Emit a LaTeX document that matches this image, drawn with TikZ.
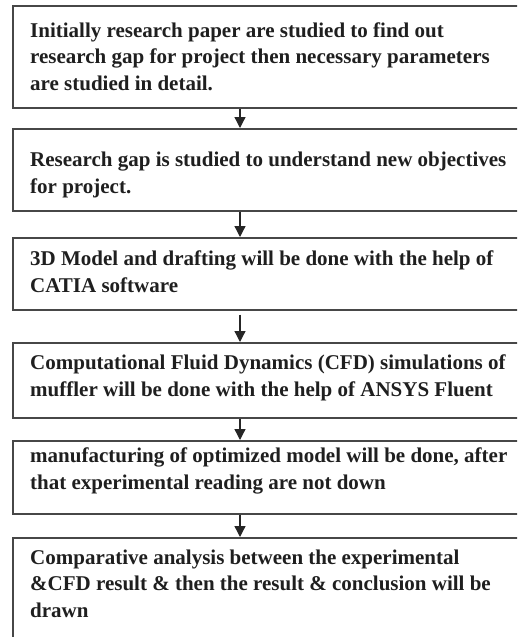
\documentclass[tikz,border=0pt]{standalone}
\usepackage{fontspec}
\setmainfont{Liberation Serif}
\usetikzlibrary{arrows.meta}
\begin{document}
\begin{tikzpicture}[x=1pt,y=1pt,
  frame/.style={draw=black!72, line width=1.6pt, anchor=north west, minimum width=530pt, inner sep=0pt},
  txt/.style={anchor=base west, inner sep=0pt, align=left, text=black!88, font=\fontsize{21}{26.5}\selectfont\bfseries},
  conn/.style={draw=black!85, line width=1.3pt, -{Triangle[width=11pt,length=11pt]}}]
\useasboundingbox (0,0) rectangle (517,-637);
\clip (0,0) rectangle (517,-637);
\node[frame, minimum height=102pt] (b1) at (12,-5) {};
\node[frame, minimum height=82pt]  (b2) at (12,-128) {};
\node[frame, minimum height=72pt]  (b3) at (12,-237) {};
\node[frame, minimum height=75pt]  (b4) at (12,-342) {};
\node[frame, minimum height=73pt]  (b5) at (12,-440) {};
\node[frame, minimum height=115pt] (b6) at (12,-537) {};
% anchors are at the baseline of the last line
\node[txt] (t1) at (30,-90) {Initially research paper are studied to find out\\research gap for project then necessary parameters\\are studied in detail.};
\node[txt] (t2) at (30,-193) {Research gap is studied to understand new objectives\\for project.};
\node[txt] (t3) at (30,-292) {3D Model and drafting will be done with the help of\\CATIA software};
\node[txt] (t4) at (30,-396) {Computational Fluid Dynamics (CFD) simulations of\\muffler will be done with the help of ANSYS Fluent};
\node[txt] (t5) at (30,-489) {manufacturing of optimized model will be done, after\\that experimental reading are not down};
\node[txt] (t6) at (30,-617) {Comparative analysis between the experimental\\\&CFD result \& then the result \& conclusion will be\\drawn};
\coordinate (ax) at (240,0);
\draw[conn] (b1.south -| ax) -- (b2.north -| ax);
\draw[conn] (b2.south -| ax) -- (b3.north -| ax);
\draw[conn] ([yshift=-4pt]b3.south -| ax) -- (b4.north -| ax);
\draw[conn] (b4.south -| ax) -- (b5.north -| ax);
\draw[conn] (b5.south -| ax) -- (b6.north -| ax);
\end{tikzpicture}
\end{document}
